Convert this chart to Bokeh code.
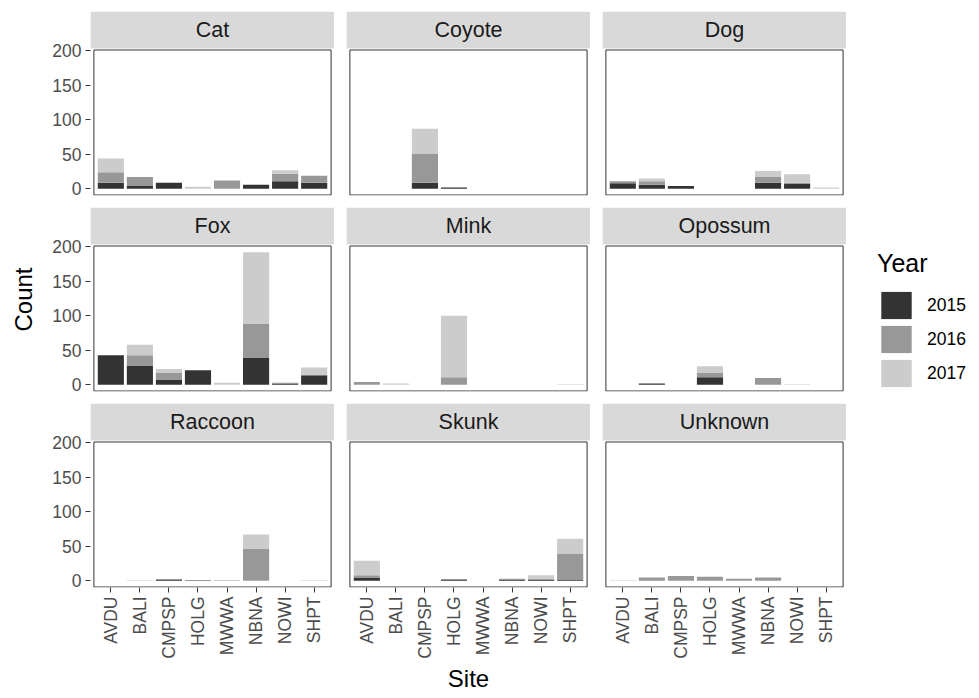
import math
from bokeh.plotting import figure
from bokeh.layouts import row, column
from bokeh.models import (FactorRange, Range1d, FixedTicker, Legend, LegendItem,
                          ColumnDataSource, BoxAnnotation)
from bokeh.core.properties import value
from bokeh.embed import file_html
from bokeh.resources import INLINE

# ---------------- data ----------------
sites = ["AVDU", "BALI", "CMPSP", "HOLG", "MWWA", "NBNA", "NOWI", "SHPT"]
years = ["2015", "2016", "2017"]
species = ["Cat", "Coyote", "Dog", "Fox", "Mink", "Opossum", "Raccoon", "Skunk", "Unknown"]
y_ticks = [0, 50, 100, 150, 200]

cat_2015 = [9, 4, 9, 0, 0, 6, 11, 9]
cat_2016 = [15, 13, 0, 0, 12, 0, 11, 10]
cat_2017 = [20, 0, 0, 3, 0, 0, 5, 0]

coyote_2015 = [0, 0, 9, 2, 0, 0, 0, 0]
coyote_2016 = [0, 0, 42, 0, 0, 0, 0, 0]
coyote_2017 = [0, 0, 36, 0, 0, 0, 0, 0]

dog_2015 = [8, 6, 4, 0, 0, 9, 7, 0]
dog_2016 = [3, 5, 0, 0, 0, 9, 2, 0]
dog_2017 = [0, 4, 0, 0, 0, 8, 12, 2]

fox_2015 = [43, 28, 7, 21, 0, 39, 2, 14]
fox_2016 = [0, 15, 11, 0, 0, 49, 1, 0]
fox_2017 = [0, 15, 5, 0, 3, 104, 0, 11]

mink_2015 = [0, 0, 0, 0, 0, 0, 0, 0]
mink_2016 = [4, 0, 0, 11, 0, 0, 0, 0]
mink_2017 = [0, 2, 0, 89, 0, 0, 0, 1]

opossum_2015 = [0, 2, 0, 11, 0, 0, 0, 0]
opossum_2016 = [0, 0, 0, 7, 0, 10, 0, 0]
opossum_2017 = [0, 0, 0, 9, 0, 0, 1, 0]

raccoon_2015 = [0, 0, 2, 1, 0, 0, 0, 0]
raccoon_2016 = [0, 0, 0, 0, 1, 46, 0, 0]
raccoon_2017 = [0, 1, 0, 0, 0, 21, 0, 1]

skunk_2015 = [5, 0, 0, 2, 0, 2, 2, 2]
skunk_2016 = [3, 0, 0, 0, 0, 1, 1, 37]
skunk_2017 = [21, 0, 0, 0, 0, 0, 5, 22]

unknown_2015 = [0, 0, 0, 0, 0, 0, 0, 0]
unknown_2016 = [0, 5, 7, 6, 3, 5, 0, 0]
unknown_2017 = [1, 0, 0, 0, 0, 0, 0, 0]

counts = {
    "Cat": (cat_2015, cat_2016, cat_2017),
    "Coyote": (coyote_2015, coyote_2016, coyote_2017),
    "Dog": (dog_2015, dog_2016, dog_2017),
    "Fox": (fox_2015, fox_2016, fox_2017),
    "Mink": (mink_2015, mink_2016, mink_2017),
    "Opossum": (opossum_2015, opossum_2016, opossum_2017),
    "Raccoon": (raccoon_2015, raccoon_2016, raccoon_2017),
    "Skunk": (skunk_2015, skunk_2016, skunk_2017),
    "Unknown": (unknown_2015, unknown_2016, unknown_2017),
}

# ---------------- style ----------------
FONT = "Liberation Sans"
year_colors = ["#333333", "#989898", "#CCCCCC"]
STRIP_FILL = "#D9D9D9"
BORDER = "#333333"
TICK_TEXT = "#4D4D4D"
FW, FH = 244, 146        # panel (data area) size in px
SH = 37                  # strip height in px
SGAP = 1                 # gap between strip and panel
TOP = 11                 # space above first row
GAP = 12                 # space between panel rows
LEFT0, LEFTN = 50, 12
TOTAL_H = 690
XPAD = 0.2               # total discrete padding (0.1 on each side)

ymax = max(sum(v[i] for v in counts[s]) for s in species for i in range(len(sites)))
ylo, yhi = -0.05 * ymax, 1.05 * ymax
uy = (yhi - ylo) / FH                      # y units per pixel
strip_lo = yhi + SGAP * uy
strip_hi = strip_lo + SH * uy
y_range = Range1d(ylo, strip_hi)
x_range = FactorRange(factors=sites, range_padding=XPAD, range_padding_units="absolute")
x_lo, x_hi = -XPAD / 2, len(sites) + XPAD / 2   # synthetic extent of the panel
ux = (x_hi - x_lo) / FW                    # x units per pixel
x_mid = len(sites) / 2.0
ykeys = ["y" + y for y in years]


def make_panel(name, c, r):
    p = figure(x_range=x_range, y_range=y_range,
               frame_width=FW, frame_height=FH + SGAP + SH,
               min_border_left=LEFT0 if c == 0 else LEFTN, min_border_right=0,
               min_border_top=TOP if r == 0 else 0,
               min_border_bottom=100 if r == 2 else GAP,
               x_axis_location="below" if r == 2 else None,
               y_axis_location="left" if c == 0 else None,
               toolbar_location=None, output_backend="svg",
               background_fill_color="white", border_fill_color="white",
               outline_line_color=None)
    p.xgrid.grid_line_color = None
    p.ygrid.grid_line_color = None
    data = {"site": sites}
    for k, vals in zip(ykeys, counts[name]):
        data[k] = vals
    src = ColumnDataSource(data)
    p.vbar_stack(ykeys, x="site", width=0.9, source=src,
                 fill_color=year_colors, line_color=None)
    # panel border (inset half a pixel so that it is not clipped by the frame)
    p.add_layout(BoxAnnotation(left=x_lo + 0.5 * ux, right=x_hi - 0.5 * ux,
                               bottom=ylo + 0.5 * uy, top=yhi - 0.5 * uy,
                               fill_alpha=0, line_color=BORDER, line_width=1, line_alpha=1))
    # facet strip
    p.add_layout(BoxAnnotation(bottom=strip_lo, fill_color=STRIP_FILL, fill_alpha=1,
                               line_color=None))
    p.text(x=[x_mid], y=[(strip_lo + strip_hi) / 2], text=[name],
           text_align="center", text_baseline="middle", level="overlay",
           text_font=value(FONT), text_font_size="21.5px", text_color="#1A1A1A")
    for ax in p.axis:
        ax.axis_line_color = None
        ax.major_tick_line_color = BORDER
        ax.major_tick_out = 5
        ax.major_tick_in = 0
        ax.minor_tick_line_color = None
        ax.major_label_text_font = FONT
        ax.major_label_text_font_size = "17.5px"
        ax.major_label_text_color = TICK_TEXT
        ax.major_label_standoff = 4
    if c == 0:
        p.yaxis.ticker = FixedTicker(ticks=y_ticks)
    if r == 2:
        p.xaxis.major_label_orientation = math.pi / 2
        if c == 1:
            p.xaxis.axis_label = "Site"
            p.xaxis.axis_label_text_font = FONT
            p.xaxis.axis_label_text_font_size = "24px"
            p.xaxis.axis_label_text_font_style = "normal"
            p.xaxis.axis_label_text_color = "black"
            p.xaxis.axis_label_standoff = 3
    return p


rows_ = []
for r in range(3):
    names = species[r * 3:(r + 1) * 3]
    rows_.append(row(*[make_panel(n, c, r) for c, n in enumerate(names)]))
grid = column(*rows_)

# "Count" axis title, centred on the strips + panels block
countfig = figure(width=40, height=TOTAL_H, x_range=Range1d(0, 40), y_range=Range1d(TOTAL_H, 0),
                  min_border=0, x_axis_location=None, y_axis_location=None,
                  toolbar_location=None, output_backend="svg", outline_line_color=None)
countfig.grid.visible = False
block_bottom = TOP + 3 * (SH + SGAP + FH) + 2 * GAP
panels_center = (TOP + block_bottom) / 2.0
countfig.text(x=[23], y=[panels_center], text=["Count"], angle=math.pi / 2,
              text_align="center", text_baseline="middle",
              text_font=value(FONT), text_font_size="24px", text_color="black")

# legend
legfig = figure(width=130, height=TOTAL_H, x_range=Range1d(0, 1), y_range=Range1d(0, 1),
                min_border=0, x_axis_location=None, y_axis_location=None,
                toolbar_location=None, output_backend="svg", outline_line_color=None)
legfig.grid.visible = False
items = []
for yr, col in zip(years, year_colors):
    rr = legfig.vbar(x=[0.5], top=[0], bottom=[0], width=0.5, fill_color=col, line_color=None)
    items.append(LegendItem(label=yr, renderers=[rr]))
legend = Legend(items=items, location=(31, 300), title="Year",
                title_text_font=FONT, title_text_font_size="25px", title_text_font_style="normal",
                title_text_color="black", title_standoff=10,
                label_text_font=FONT, label_text_font_size="17.5px", label_text_color="black",
                glyph_width=38, glyph_height=34, spacing=0, label_standoff=12,
                margin=0, padding=0, border_line_color=None, background_fill_alpha=0)
legfig.add_layout(legend)

layout = row(countfig, grid, legfig)
open("out.html", "w").write(file_html(layout, INLINE))
